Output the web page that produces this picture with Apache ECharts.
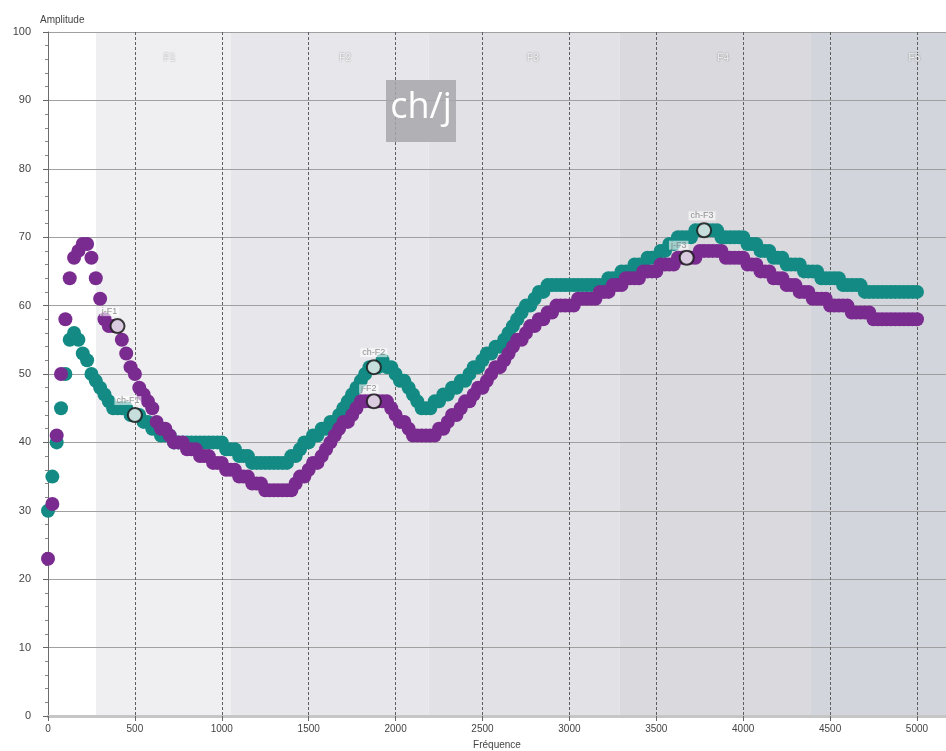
<!DOCTYPE html>
<html>
<head>
<meta charset="utf-8">
<script src="https://cdn.jsdelivr.net/npm/echarts@6/dist/echarts.min.js"></script>
<style>
  html, body { margin: 0; padding: 0; background: #fff; }
  #chart-container { width: 946px; height: 751px; }
</style>
</head>
<body>
<div id="chart-container"></div>
<script>
// spectrum bins, 25 Hz apart, starting at 0 Hz
const binHz = 25;

// "j" spectrum (purple)
const jValues = [
  23, 31, 41, 50, 58, 64, 67, 68, 69, 69,
  67, 64, 61, 58, 57, 57, 57, 55, 53, 51,
  50, 48, 47, 46, 45, 43, 42, 42, 41, 40,
  40, 40, 39, 39, 39, 38, 38, 38, 37, 37,
  37, 36, 36, 36, 35, 35, 35, 34, 34, 34,
  33, 33, 33, 33, 33, 33, 33, 34, 35, 35,
  36, 37, 37, 38, 39, 40, 41, 42, 43, 43,
  44, 45, 46, 46, 46, 46, 46, 46, 46, 45,
  44, 43, 43, 42, 41, 41, 41, 41, 41, 41,
  42, 42, 43, 44, 44, 45, 46, 46, 47, 48,
  48, 49, 50, 51, 51, 52, 53, 54, 55, 55,
  56, 57, 57, 58, 58, 59, 59, 60, 60, 60,
  60, 60, 61, 61, 61, 61, 61, 62, 62, 62,
  63, 63, 63, 64, 64, 64, 64, 65, 65, 65,
  65, 66, 66, 66, 66, 67, 67, 67, 67, 67,
  68, 68, 68, 68, 68, 68, 67, 67, 67, 67,
  67, 66, 66, 66, 65, 65, 65, 64, 64, 64,
  63, 63, 63, 62, 62, 62, 61, 61, 61, 61,
  60, 60, 60, 60, 60, 59, 59, 59, 59, 59,
  58, 58, 58, 58, 58, 58, 58, 58, 58, 58,
  58
];

// "ch" spectrum (teal)
const chValues = [
  30, 35, 40, 45, 50, 55, 56, 55, 53, 52,
  50, 49, 48, 47, 46, 45, 45, 45, 45, 44,
  44, 44, 43, 43, 42, 42, 41, 41, 41, 40,
  40, 40, 40, 40, 40, 40, 40, 40, 40, 40,
  40, 39, 39, 39, 38, 38, 38, 37, 37, 37,
  37, 37, 37, 37, 37, 37, 38, 38, 39, 40,
  40, 41, 41, 42, 42, 43, 43, 44, 45, 46,
  47, 48, 49, 50, 51, 51, 51, 52, 51, 51,
  50, 49, 49, 48, 47, 46, 45, 45, 45, 46,
  46, 47, 47, 48, 48, 49, 49, 50, 51, 51,
  52, 53, 53, 54, 54, 55, 56, 57, 58, 59,
  60, 60, 61, 62, 62, 63, 63, 63, 63, 63,
  63, 63, 63, 63, 63, 63, 63, 63, 63, 64,
  64, 64, 65, 65, 65, 66, 66, 66, 67, 67,
  67, 68, 68, 69, 69, 70, 70, 70, 70, 71,
  71, 71, 71, 71, 71, 70, 70, 70, 70, 70,
  70, 69, 69, 69, 68, 68, 68, 67, 67, 67,
  66, 66, 66, 66, 65, 65, 65, 65, 64, 64,
  64, 64, 64, 63, 63, 63, 63, 63, 62, 62,
  62, 62, 62, 62, 62, 62, 62, 62, 62, 62,
  62
];

// formant bands
const bandNames = ['F1', 'F2', 'F3', 'F4', 'F5'];
const bandStartHz = [276, 1050, 2190, 3290, 4390];
const bandEndHz = [1050, 2190, 3290, 4390, 5170];
const bandLabelHz = [700, 1710, 2790, 3885, 4985];

// formant markers
const formantNames = ['j-F1', 'ch-F1', 'ch-F2', 'j-F2', 'j-F3', 'ch-F3'];
const formantHz = [400, 500, 1875, 1875, 3675, 3775];
const formantAmp = [57, 44, 51, 46, 67, 71];

const xTicks = [0, 500, 1000, 1500, 2000, 2500, 3000, 3500, 4000, 4500, 5000];

// styling
const bandColors = ['#efeff1', '#e7e7eb', '#e2e2e6', '#dadade', '#d2d5db'];
const labelOffsets = {
  'j-F1': [-8, 0], 'ch-F1': [-7, 0], 'ch-F2': [0, 0],
  'j-F2': [-5, 2], 'j-F3': [-8, 2], 'ch-F3': [-2, 0]
};
const purple = '#7a2b8f';
const teal = '#138a83';
const tickFont = '"Liberation Sans Narrow", "Liberation Sans", sans-serif';

const chartDom = document.getElementById('chart-container');
const myChart = echarts.init(chartDom, null, { renderer: 'canvas' });

const toPoints = values => values.map((v, i) => [i * binHz, v]);

const option = {
  backgroundColor: '#ffffff',
  animation: false,
  title: {
    text: 'Amplitude',
    left: 35, top: 10,
    textStyle: { fontSize: 10, fontWeight: 'normal', color: '#444', fontFamily: tickFont }
  },
  grid: { left: 48, right: 0, top: 32, bottom: 35, outerBoundsMode: 'none', containLabel: false },
  xAxis: {
    type: 'value',
    z: 2,
    min: 0, max: 5167, interval: 500,
    name: 'Fréquence',
    nameLocation: 'middle',
    nameGap: 24,
    nameTextStyle: { fontSize: 10, color: '#444', fontFamily: tickFont },
    axisLine: { show: true, onZero: false, lineStyle: { color: '#c6c6c6', width: 3 } },
    axisTick: { show: true, length: 5, lineStyle: { color: '#666' } },
    axisLabel: {
      showMaxLabel: false,
      fontSize: 10, color: '#444', fontFamily: tickFont, margin: 8,
      formatter: v => (xTicks.indexOf(v) >= 0 ? String(v) : '')
    },
    splitLine: { show: true, lineStyle: { color: '#5e5e5e', width: 1, type: [3, 2] } }
  },
  yAxis: {
    type: 'value',
    z: 2,
    min: 0, max: 100, interval: 10,
    axisLine: { show: true, lineStyle: { color: '#6c6c6c', width: 1 } },
    axisTick: { show: true, length: 5, lineStyle: { color: '#666' } },
    minorTick: { show: true, splitNumber: 5, length: 3, lineStyle: { color: '#888' } },
    axisLabel: { fontSize: 11, color: '#444', fontFamily: tickFont, margin: 17 },
    splitLine: { show: true, lineStyle: { color: '#a0a0a0', width: 1 } }
  },
  graphic: [
    {
      type: 'rect', z: 50,
      shape: { x: 386, y: 80, width: 70, height: 62 },
      style: { fill: '#a7a7ab', opacity: 0.85 }
    },
    {
      type: 'text', z: 51,
      x: 421, y: 108,
      style: {
        text: 'ch/j', fill: '#ffffff',
        font: '36px "Open Sans", sans-serif',
        align: 'center', verticalAlign: 'middle'
      }
    }
  ],
  series: [
    {
      name: 'bands',
      type: 'scatter',
      data: [],
      silent: true,
      z: 0,
      markArea: {
        silent: true,
        data: bandNames.map((n, i) => [
          { xAxis: bandStartHz[i], yAxis: 0, itemStyle: { color: bandColors[i] } },
          { xAxis: bandEndHz[i], yAxis: 100 }
        ])
      }
    },
    {
      name: 'band labels',
      type: 'scatter',
      silent: true,
      symbolSize: 0,
      z: 3,
      data: bandNames.map((n, i) => ({ name: n, value: [bandLabelHz[i], 96.2] })),
      label: {
        show: true, position: 'inside',
        formatter: p => p.name,
        fontSize: 10, color: '#ffffff',
        textShadowColor: 'rgba(0,0,0,0.55)', textShadowBlur: 2,
        fontFamily: tickFont
      }
    },
    {
      name: 'ch',
      type: 'scatter',
      symbol: 'circle',
      symbolSize: 14,
      z: 4,
      itemStyle: { color: teal, opacity: 1 },
      data: toPoints(chValues)
    },
    {
      name: 'j',
      type: 'scatter',
      symbol: 'circle',
      symbolSize: 14,
      z: 5,
      itemStyle: { color: purple, opacity: 1 },
      data: toPoints(jValues)
    },
    {
      name: 'formants',
      type: 'scatter',
      symbol: 'circle',
      symbolSize: 14,
      z: 6,
      itemStyle: { color: '#f4f4f4', borderColor: '#111', borderWidth: 2 },
      data: formantNames.map((n, i) => ({ name: n, value: [formantHz[i], formantAmp[i]] })),
      label: {
        show: true, position: 'top', distance: 2,
        formatter: p => p.name,
        fontSize: 9, color: '#777',
        backgroundColor: 'rgba(255,255,255,0.75)',
        padding: [0, 2],
        fontFamily: tickFont
      },
      labelLayout: p => ({ dx: labelOffsets[formantNames[p.dataIndex]][0], dy: labelOffsets[formantNames[p.dataIndex]][1] })
    }
  ]
};

myChart.setOption(option);
</script>
</body>
</html>
